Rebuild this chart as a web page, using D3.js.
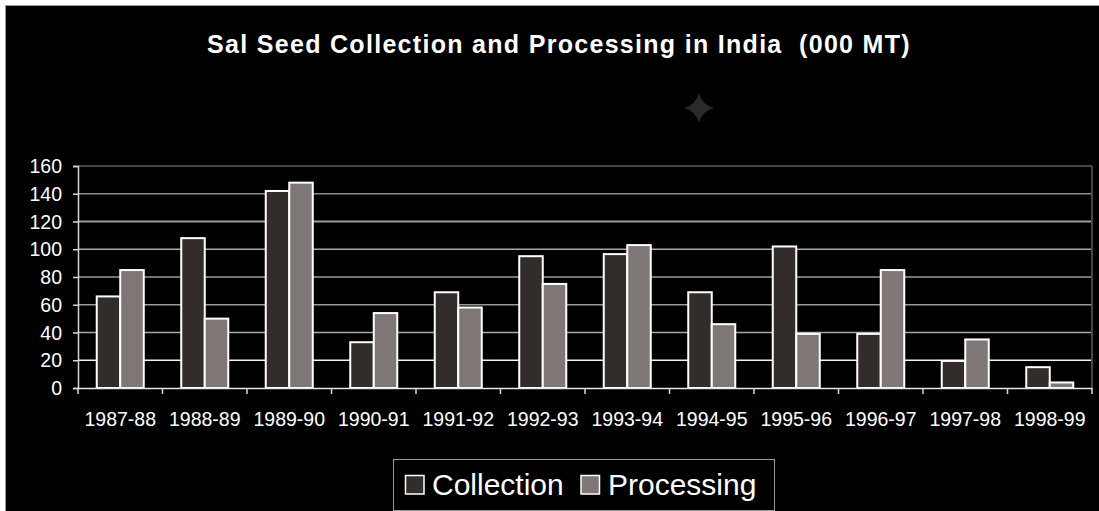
<!DOCTYPE html>
<html>
<head>
<meta charset="utf-8">
<script src="https://cdn.jsdelivr.net/npm/d3@7"></script>
<style>
  html, body { margin: 0; padding: 0; background: #fff; }
  svg { display: block; }
  text { font-family: "Liberation Sans", Arial, sans-serif; }
</style>
</head>
<body>
<svg id="chart" width="1099" height="511"></svg>
<script>
const categories = ["1987-88","1988-89","1989-90","1990-91","1991-92","1992-93","1993-94","1994-95","1995-96","1996-97","1997-98","1998-99"];
const collection = [66, 108, 142, 33, 69, 95, 96.5, 69, 102, 39, 19.5, 15];
const processing = [85, 50, 148, 54, 58, 75, 103, 46, 39, 85, 35, 4];
const seriesNames = ["Collection", "Processing"];
const yTicks = [0, 20, 40, 60, 80, 100, 120, 140, 160];
const titleText = "Sal Seed Collection and Processing in India  (000 MT)";

(function () {
const colors = { Collection: "#322d2a", Processing: "#7f7775" };
const gridColors = { 0: "#e8e8e8", 20: "#f4f4f4", 40: "#a8a8a8", 60: "#9a9a9a", 80: "#9a9a9a", 100: "#a8a8a8", 120: "#9c9c9c", 140: "#8a8a8a", 160: "#4a4541" };

const svg = d3.select("#chart");
const W = 1099, H = 511;

// frame / background
svg.append("rect").attr("x", 0).attr("y", 0).attr("width", W).attr("height", H).attr("fill", "#ffffff");
svg.append("rect").attr("x", 5.5).attr("y", 5.5).attr("width", W).attr("height", H).attr("fill", "#000").attr("stroke", "#9a9a9a").attr("stroke-width", 1);

// sparkle
const sx = 699, sy = 108, sr = 15;
svg.append("path")
  .attr("d", `M${sx},${sy - sr} Q${sx + 3},${sy - 3} ${sx + sr},${sy} Q${sx + 3},${sy + 3} ${sx},${sy + sr} Q${sx - 3},${sy + 3} ${sx - sr},${sy} Q${sx - 3},${sy - 3} ${sx},${sy - sr}Z`)
  .attr("fill", "#2b2929");

// title
svg.append("text")
  .attr("x", 559).attr("y", 53)
  .attr("text-anchor", "middle")
  .attr("fill", "#fff")
  .attr("font-size", "25px")
  .attr("font-weight", "bold")
  .attr("letter-spacing", "1.3px")
  .style("white-space", "pre")
  .attr("xml:space", "preserve")
  .text(titleText);

const pL = 78, pR = 1092, pT = 166, pB = 388;
const x = d3.scaleBand().domain(categories).range([pL, pR]).padding(0);
const y = d3.scaleLinear().domain([0, 160]).range([pB, pT]);
const xs = d3.scaleBand().domain(seriesNames).range([0, 47]).padding(0);
const offset = (x.bandwidth() - 47) / 2;

// gridlines
svg.append("g").selectAll("line").data(yTicks.filter(d => d > 0)).join("line")
  .attr("x1", pL).attr("x2", pR)
  .attr("y1", d => y(d)).attr("y2", d => y(d))
  .attr("stroke", d => gridColors[d])
  .attr("stroke-width", d => (d === 160 || d === 120) ? 2 : 1.3);

// right border
svg.append("line").attr("x1", pR).attr("x2", pR).attr("y1", pT).attr("y2", pB)
  .attr("stroke", "#4a4541").attr("stroke-width", 2);

// bars
const data = categories.map((c, i) => ({ c, vals: [
  { s: "Collection", v: collection[i] },
  { s: "Processing", v: processing[i] }
]}));

const groups = svg.append("g").selectAll("g").data(data).join("g")
  .attr("transform", d => `translate(${x(d.c) + offset},0)`);
groups.selectAll("rect").data(d => d.vals).join("rect")
  .attr("x", d => xs(d.s))
  .attr("y", d => y(d.v))
  .attr("width", xs.bandwidth())
  .attr("height", d => y(0) - y(d.v))
  .attr("fill", d => colors[d.s])
  .attr("stroke", "#fff")
  .attr("stroke-width", 2);

// y axis
const yAxis = svg.append("g").attr("transform", `translate(${pL},0)`)
  .call(d3.axisLeft(y).tickValues(yTicks).tickSize(5).tickPadding(11));
yAxis.select(".domain").attr("stroke", "#d8d8d8").attr("stroke-width", 1.5);
yAxis.selectAll(".tick line").attr("stroke", "#d8d8d8").attr("stroke-width", 1.5);
yAxis.selectAll(".tick text").attr("fill", "#fff").attr("font-size", "19.5px")
  .attr("font-family", "Liberation Sans, Arial, sans-serif").attr("dy", "0.34em");

// x axis
const xAxis = svg.append("g").attr("transform", `translate(0,${pB})`)
  .call(d3.axisBottom(x).tickSize(0).tickPadding(24));
xAxis.select(".domain").attr("stroke", "#e8e8e8").attr("stroke-width", 1.5);
xAxis.selectAll(".tick text").attr("fill", "#fff").attr("font-size", "19.5px")
  .attr("font-family", "Liberation Sans, Arial, sans-serif");
// boundary ticks
const bounds = categories.map(c => x(c)).concat([pR]);
svg.append("g").selectAll("line").data(bounds).join("line")
  .attr("x1", d => d).attr("x2", d => d)
  .attr("y1", pB).attr("y2", pB + 6)
  .attr("stroke", "#d8d8d8").attr("stroke-width", 1.5);

// legend
const lg = svg.append("g");
lg.append("rect").attr("x", 393.5).attr("y", 459.5).attr("width", 381).attr("height", 51)
  .attr("fill", "#000").attr("stroke", "#9a9a9a").attr("stroke-width", 1);
const legendPos = [{ s: "Collection", sx: 405.5, tx: 432 }, { s: "Processing", sx: 581, tx: 608 }];
legendPos.forEach(p => {
  lg.append("rect").attr("x", p.sx).attr("y", 475.5).attr("width", 18.5).attr("height", 18.5)
    .attr("fill", colors[p.s]).attr("stroke", "#fff").attr("stroke-width", 1.5);
  lg.append("text").attr("x", p.tx).attr("y", 495).attr("fill", "#fff")
    .attr("font-size", "30px").text(p.s);
});
})();
</script>
</body>
</html>
